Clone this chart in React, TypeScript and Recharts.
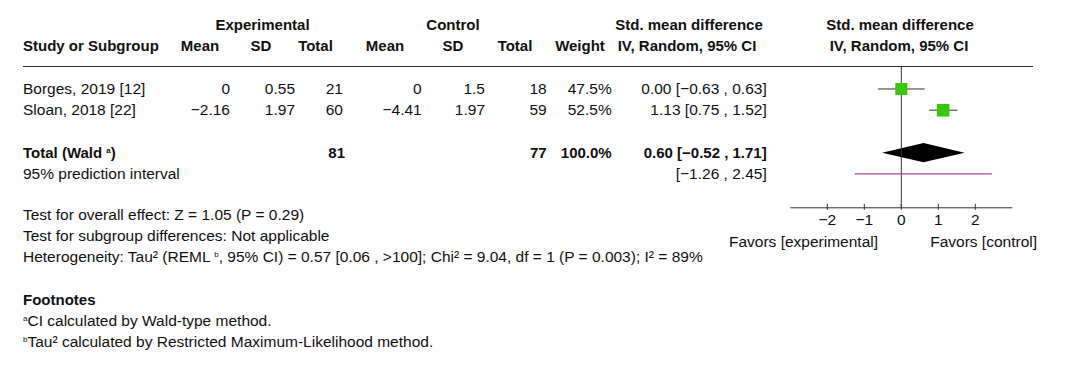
import React from 'react';
import { ComposedChart, XAxis, YAxis, Scatter, ErrorBar, ReferenceLine, ReferenceArea } from 'recharts';

const studies = ['Borges, 2019 [12]', 'Sloan, 2018 [22]'];
const expMean = [0, -2.16];
const expSD = [0.55, 1.97];
const expTotal = [21, 60];
const ctlMean = [0, -4.41];
const ctlSD = [1.5, 1.97];
const ctlTotal = [18, 59];
const weights = [47.5, 52.5];
const smd = [0.0, 1.13];
const ciLow = [-0.63, 0.75];
const ciHigh = [0.63, 1.52];
const studyRows = [1, 2];

const totalExp = 81;
const totalCtl = 77;
const totalWeight = 100.0;
const pooled = 0.6;
const pooledLow = -0.52;
const pooledHigh = 1.71;
const totalRow = 4;
const piLow = -1.26;
const piHigh = 2.45;
const piRow = 5;

const xTicks = [-2, -1, 0, 1, 2];
const xDomain = [-3, 3];

const FONT = '"Liberation Sans", Arial, Helvetica, sans-serif';
const FS = 15.5;
const FS_BOLD = 15;
const INK = '#111';

const minus = (s: string) => s.replace(/-/g, '\u2212');
const fmt = (v: number) => minus(String(v));
const fmt2 = (v: number) => minus(v.toFixed(2));
const ci = (e: number, lo: number, hi: number) => `${fmt2(e)} [${fmt2(lo)} , ${fmt2(hi)}]`;

const rowY = (r: number) => 67.8 + r * 21.2;

type TProps = { x: number; y: number; align?: 'left' | 'right' | 'center'; bold?: boolean; children: React.ReactNode };

function T({ x, y, align = 'left', bold, children }: TProps) {
  const style: React.CSSProperties = {
    position: 'absolute',
    top: y - 9,
    height: 18,
    lineHeight: '18px',
    whiteSpace: 'nowrap',
    fontWeight: bold ? 700 : 400,
    fontSize: bold ? FS_BOLD : FS,
  };
  if (align === 'left') style.left = x;
  if (align === 'right') style.right = 1070 - x;
  if (align === 'center') {
    style.left = x - 150;
    style.width = 300;
    style.textAlign = 'center';
  }
  return <div style={style}>{children}</div>;
}

const Sup = ({ children }: { children: React.ReactNode }) => (
  <sup style={{ fontSize: 8, verticalAlign: 0, position: 'relative', top: -5 }}>{children}</sup>
);

const studyData = studies.map((s, i) => ({
  name: s,
  x: smd[i],
  y: studyRows[i],
  w: weights[i],
  err: [smd[i] - ciLow[i], ciHigh[i] - smd[i]],
}));

const Square = (props: any) => {
  const { cx, cy, payload } = props;
  const s = 1.74 * Math.sqrt(payload.w);
  return <rect x={cx - s / 2} y={cy - s / 2} width={s} height={s} fill="#38c70c" />;
};

const Diamond = (props: any) => {
  const { x, y, width, height } = props;
  const f = (pooled - pooledLow) / (pooledHigh - pooledLow);
  const pts = [
    [x, y + height / 2],
    [x + width * f, y],
    [x + width, y + height / 2],
    [x + width * f, y + height],
  ]
    .map((p) => p.join(','))
    .join(' ');
  return <polygon points={pts} fill="#000" />;
};

const AxisTick = (props: any) => {
  const { x, y, payload } = props;
  return (
    <g>
      <line x1={x} x2={x} y1={y - 4} y2={y + 2} stroke="#333" />
      <text x={x} y={y + 17} textAnchor="middle" fill={INK} fontSize={FS} fontFamily={FONT}>
        {fmt(payload.value)}
      </text>
    </g>
  );
};

// plot area: x 790.3..1012.3, y 66.7..207.8
const CH_LEFT = 770;
const CH_TOP = 56;

export default function App() {
  return (
    <div
      style={{
        position: 'absolute',
        left: 0,
        top: 0,
        width: 1070,
        height: 370,
        background: '#fff',
        fontFamily: FONT,
        fontSize: FS,
        color: INK,
        overflow: 'hidden',
      }}
    >
      {/* header */}
      <T x={262.5} y={24.5} align="center" bold>Experimental</T>
      <T x={453} y={24.5} align="center" bold>Control</T>
      <T x={689} y={24.5} align="center" bold>Std. mean difference</T>
      <T x={900} y={24.5} align="center" bold>Std. mean difference</T>
      <T x={23} y={46} bold>Study or Subgroup</T>
      <T x={200} y={46} align="center" bold>Mean</T>
      <T x={261} y={46} align="center" bold>SD</T>
      <T x={315.5} y={46} align="center" bold>Total</T>
      <T x={385} y={46} align="center" bold>Mean</T>
      <T x={453} y={46} align="center" bold>SD</T>
      <T x={515} y={46} align="center" bold>Total</T>
      <T x={580} y={46} align="center" bold>Weight</T>
      <T x={687} y={46} align="center" bold>IV, Random, 95% CI</T>
      <T x={899} y={46} align="center" bold>IV, Random, 95% CI</T>

      <div style={{ position: 'absolute', left: 22.7, top: 66, width: 1010.3, height: 0, borderTop: '1px solid #333' }} />

      {/* study rows */}
      {studies.map((s, i) => {
        const y = rowY(studyRows[i]);
        return (
          <React.Fragment key={s}>
            <T x={23} y={y}>{s}</T>
            <T x={230} y={y} align="right">{fmt(expMean[i])}</T>
            <T x={295} y={y} align="right">{fmt(expSD[i])}</T>
            <T x={343} y={y} align="right">{expTotal[i]}</T>
            <T x={421.7} y={y} align="right">{fmt(ctlMean[i])}</T>
            <T x={485} y={y} align="right">{fmt(ctlSD[i])}</T>
            <T x={546.7} y={y} align="right">{ctlTotal[i]}</T>
            <T x={611.7} y={y} align="right">{weights[i].toFixed(1)}%</T>
            <T x={766.7} y={y} align="right">{ci(smd[i], ciLow[i], ciHigh[i])}</T>
          </React.Fragment>
        );
      })}

      {/* total */}
      <T x={23} y={rowY(totalRow)} bold>
        Total (Wald <Sup>a</Sup>)
      </T>
      <T x={345} y={rowY(totalRow)} align="right" bold>{totalExp}</T>
      <T x={546.7} y={rowY(totalRow)} align="right" bold>{totalCtl}</T>
      <T x={611.7} y={rowY(totalRow)} align="right" bold>{totalWeight.toFixed(1)}%</T>
      <T x={766.7} y={rowY(totalRow)} align="right" bold>{ci(pooled, pooledLow, pooledHigh)}</T>
      <T x={23} y={rowY(piRow)}>95% prediction interval</T>
      <T x={766.7} y={rowY(piRow)} align="right">[{fmt2(piLow)} , {fmt2(piHigh)}]</T>

      {/* tests */}
      <T x={23} y={214.5}>Test for overall effect: Z = 1.05 (P = 0.29)</T>
      <T x={23} y={236}>Test for subgroup differences: Not applicable</T>
      <T x={23} y={257}>
        Heterogeneity: Tau² (REML <Sup>b</Sup>, 95% CI) = 0.57 [0.06 , &gt;100]; Chi² = 9.04, df = 1 (P = 0.003); I² = 89%
      </T>
      <T x={23} y={300} bold>Footnotes</T>
      <T x={23} y={321}>
        <Sup>a</Sup>CI calculated by Wald-type method.
      </T>
      <T x={23} y={342}>
        <Sup>b</Sup>Tau² calculated by Restricted Maximum-Likelihood method.
      </T>

      <T x={878} y={241.7} align="right">Favors [experimental]</T>
      <T x={1037} y={241.7} align="right">Favors [control]</T>

      <div style={{ position: 'absolute', left: CH_LEFT, top: CH_TOP }}>
        <ComposedChart
          width={260}
          height={181.8}
          margin={{ top: 10.7, right: 17.7, bottom: 0, left: 20.3 }}
        >
          <XAxis
            type="number"
            dataKey="x"
            domain={xDomain}
            ticks={xTicks}
            interval={0}
            height={30}
            tickSize={0}
            tickMargin={0}
            tickLine={false}
            axisLine={{ stroke: '#333' }}
            tick={<AxisTick />}
            allowDataOverflow
          />
          <YAxis type="number" dataKey="y" domain={[-0.05, 6.6]} reversed hide allowDataOverflow />
          <ReferenceArea
            x1={pooledLow}
            x2={pooledHigh}
            y1={totalRow - 0.45}
            y2={totalRow + 0.45}
            shape={<Diamond />}
            ifOverflow="visible"
          />
          <Scatter data={studyData} shape={<Square />} isAnimationActive={false}>
            <ErrorBar dataKey="err" direction="x" width={0} stroke="#333" strokeWidth={1} />
          </Scatter>
          <ReferenceLine x={0} stroke="#333" />
          <ReferenceLine
            segment={[
              { x: piLow, y: piRow },
              { x: piHigh, y: piRow },
            ]}
            stroke="#a3479e"
            strokeWidth={1.3}
          />
        </ComposedChart>
      </div>
    </div>
  );
}
